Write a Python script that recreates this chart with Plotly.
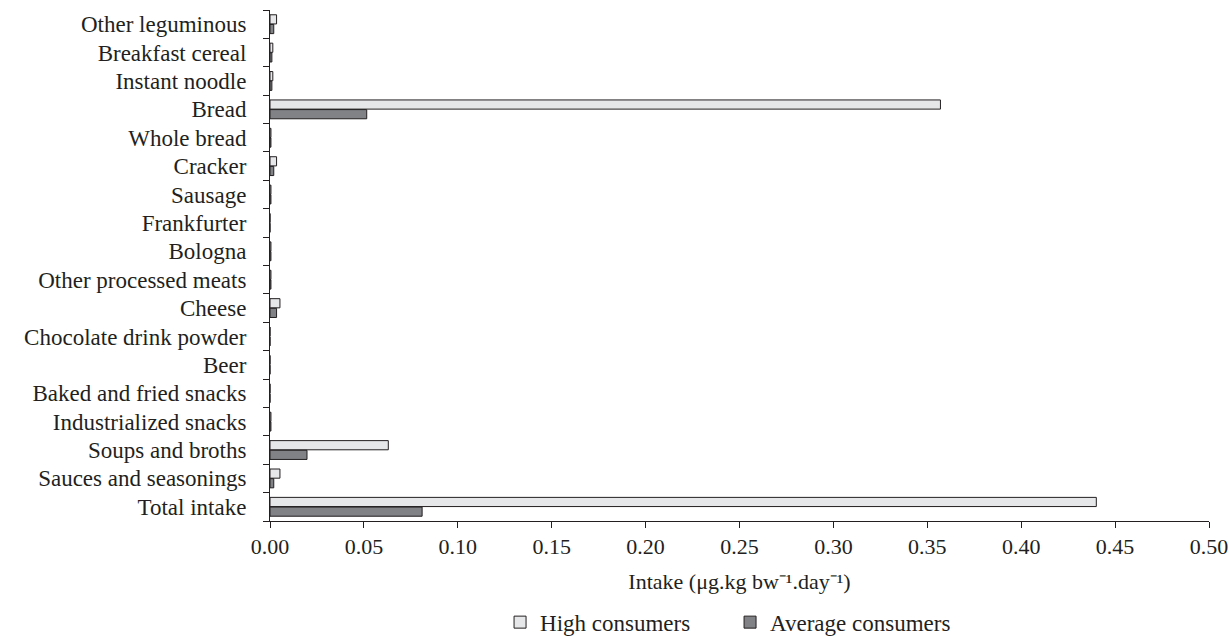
import plotly.graph_objects as go

categories = ["Other leguminous", "Breakfast cereal", "Instant noodle", "Bread", "Whole bread",
              "Cracker", "Sausage", "Frankfurter", "Bologna", "Other processed meats", "Cheese",
              "Chocolate drink powder", "Beer", "Baked and fried snacks", "Industrialized snacks",
              "Soups and broths", "Sauces and seasonings", "Total intake"]
high_consumers = [0.0035, 0.0015, 0.0015, 0.357, 0.0005, 0.0035, 0.0005, 0.0, 0.0005, 0.0005,
                  0.0053, 0.0, 0.0, 0.0, 0.0005, 0.063, 0.0053, 0.440]
average_consumers = [0.002, 0.001, 0.001, 0.0515, 0.0005, 0.002, 0.0005, 0.0, 0.0005, 0.0005,
                     0.0035, 0.0, 0.0, 0.0, 0.0005, 0.0197, 0.002, 0.081]
x_ticks = [0.0, 0.05, 0.10, 0.15, 0.20, 0.25, 0.30, 0.35, 0.40, 0.45, 0.50]

FONT = "Liberation Serif"
fig = go.Figure()
fig.add_trace(go.Bar(y=categories, x=high_consumers, orientation="h", name="High consumers",
                     marker=dict(color="#e6e7e8", line=dict(color="#231f20", width=1))))
fig.add_trace(go.Bar(y=categories, x=average_consumers, orientation="h", name="Average consumers",
                     marker=dict(color="#808285", line=dict(color="#231f20", width=1))))

fig.update_layout(
    width=1229, height=637,
    margin=dict(l=270, r=20, t=10, b=116, autoexpand=False),
    paper_bgcolor="white", plot_bgcolor="white",
    barmode="group", bargap=0.32, bargroupgap=0.05,
    font=dict(family=FONT, size=22, color="#231f20"),
    legend=dict(orientation="h", x=0.245, xanchor="left", y=-0.198, yanchor="middle",
                font=dict(size=23), traceorder="normal", itemwidth=30, entrywidth=185),
    showlegend=True,
)
fig.update_xaxes(range=[0, 0.5], tickvals=x_ticks, ticktext=[f"{v:.2f}" for v in x_ticks],
                 tickfont=dict(size=22),
                 showgrid=False, zeroline=False, showline=True, linecolor="#231f20", linewidth=1,
                 ticks="outside", ticklen=6, tickcolor="#231f20",
                 title=dict(text="Intake (μg.kg bw⁻¹.day⁻¹)", standoff=15,
                            font=dict(family=FONT, size=22)))
fig.update_yaxes(autorange="reversed", tickmode="array", tickvals=categories,
                 showgrid=False, zeroline=False, showline=True,
                 linecolor="#231f20", linewidth=1, ticks="outside", ticklen=6,
                 tickcolor="#231f20", tickson="boundaries", ticklabelstandoff=18,
                 tickfont=dict(size=23))

fig.write_html("out.html")
